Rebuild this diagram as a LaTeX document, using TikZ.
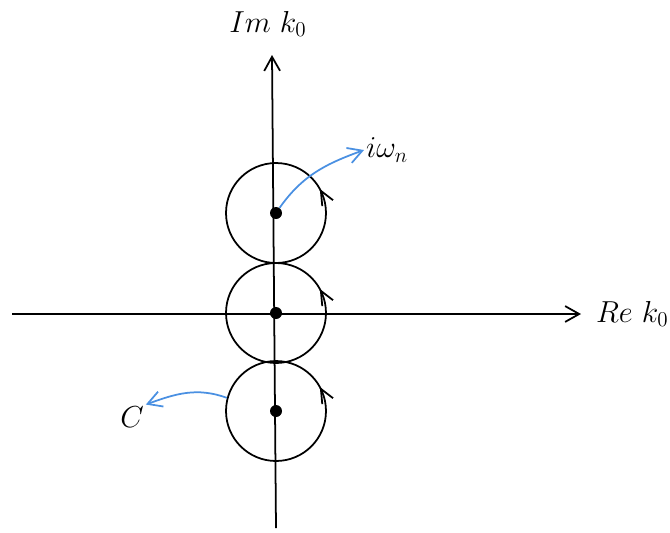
\documentclass[tikz,border=0pt]{standalone}
\usepackage{amsmath}
\usetikzlibrary{arrows.meta, decorations.markings}

\definecolor{curveblue}{RGB}{74,144,226}

\begin{document}
\begin{tikzpicture}[
        x=0.02cm, y=-0.02cm,
        tip/.style={-{Straight Barb[length=8pt, width=9pt]}},
        axis/.style={line width=1pt, tip},
        contour/.style={draw, circle, line width=1pt, minimum size=2cm, inner sep=0pt,
            postaction={decorate, decoration={markings,
                mark=at position 0.08 with {\arrow{Straight Barb[length=8pt, width=7pt]}}}}},
        pole/.style={circle, fill=black, minimum size=0.24cm, inner sep=0pt},
        pointer/.style={curveblue, line width=1pt, tip},
        lbl/.style={font=\LARGE, inner sep=1pt}
    ]
        \useasboundingbox (0,0) rectangle (670,532);

        % axes
        \coordinate (xs) at (12,314);
        \coordinate (xe) at (581,314);
        \coordinate (ys) at (276,528);
        \coordinate (ye) at (272,55);
        \draw[axis] (xs) -- (xe);
        \draw[axis] (ys) -- (ye);
        \node[lbl, anchor=west] (re) at (594,314) {$Re\ k_0$};
        \node[lbl] (im) at (268,24) {$Im\ k_0$};

        % contours round the poles
        \node[contour] (c1) at (276,213) {};
        \node[contour] (c2) at (276,313) {};
        \node[contour] (c3) at (276,411) {};
        \node[pole] (p1) at (c1.center) {};
        \node[pole] (p2) at (c2.center) {};
        \node[pole] (p3) at (c3.center) {};

        % labels
        \node[lbl, anchor=west] (om) at (364,150) {$i\omega_n$};
        \node[lbl] (cc) at (132,417) {$C$};
        \draw[pointer] (p1) to[out=55,in=200] (om.west);
        \draw[pointer] (c3.165) to[out=160,in=20] (cc.north east);
    \end{tikzpicture}
\end{document}
